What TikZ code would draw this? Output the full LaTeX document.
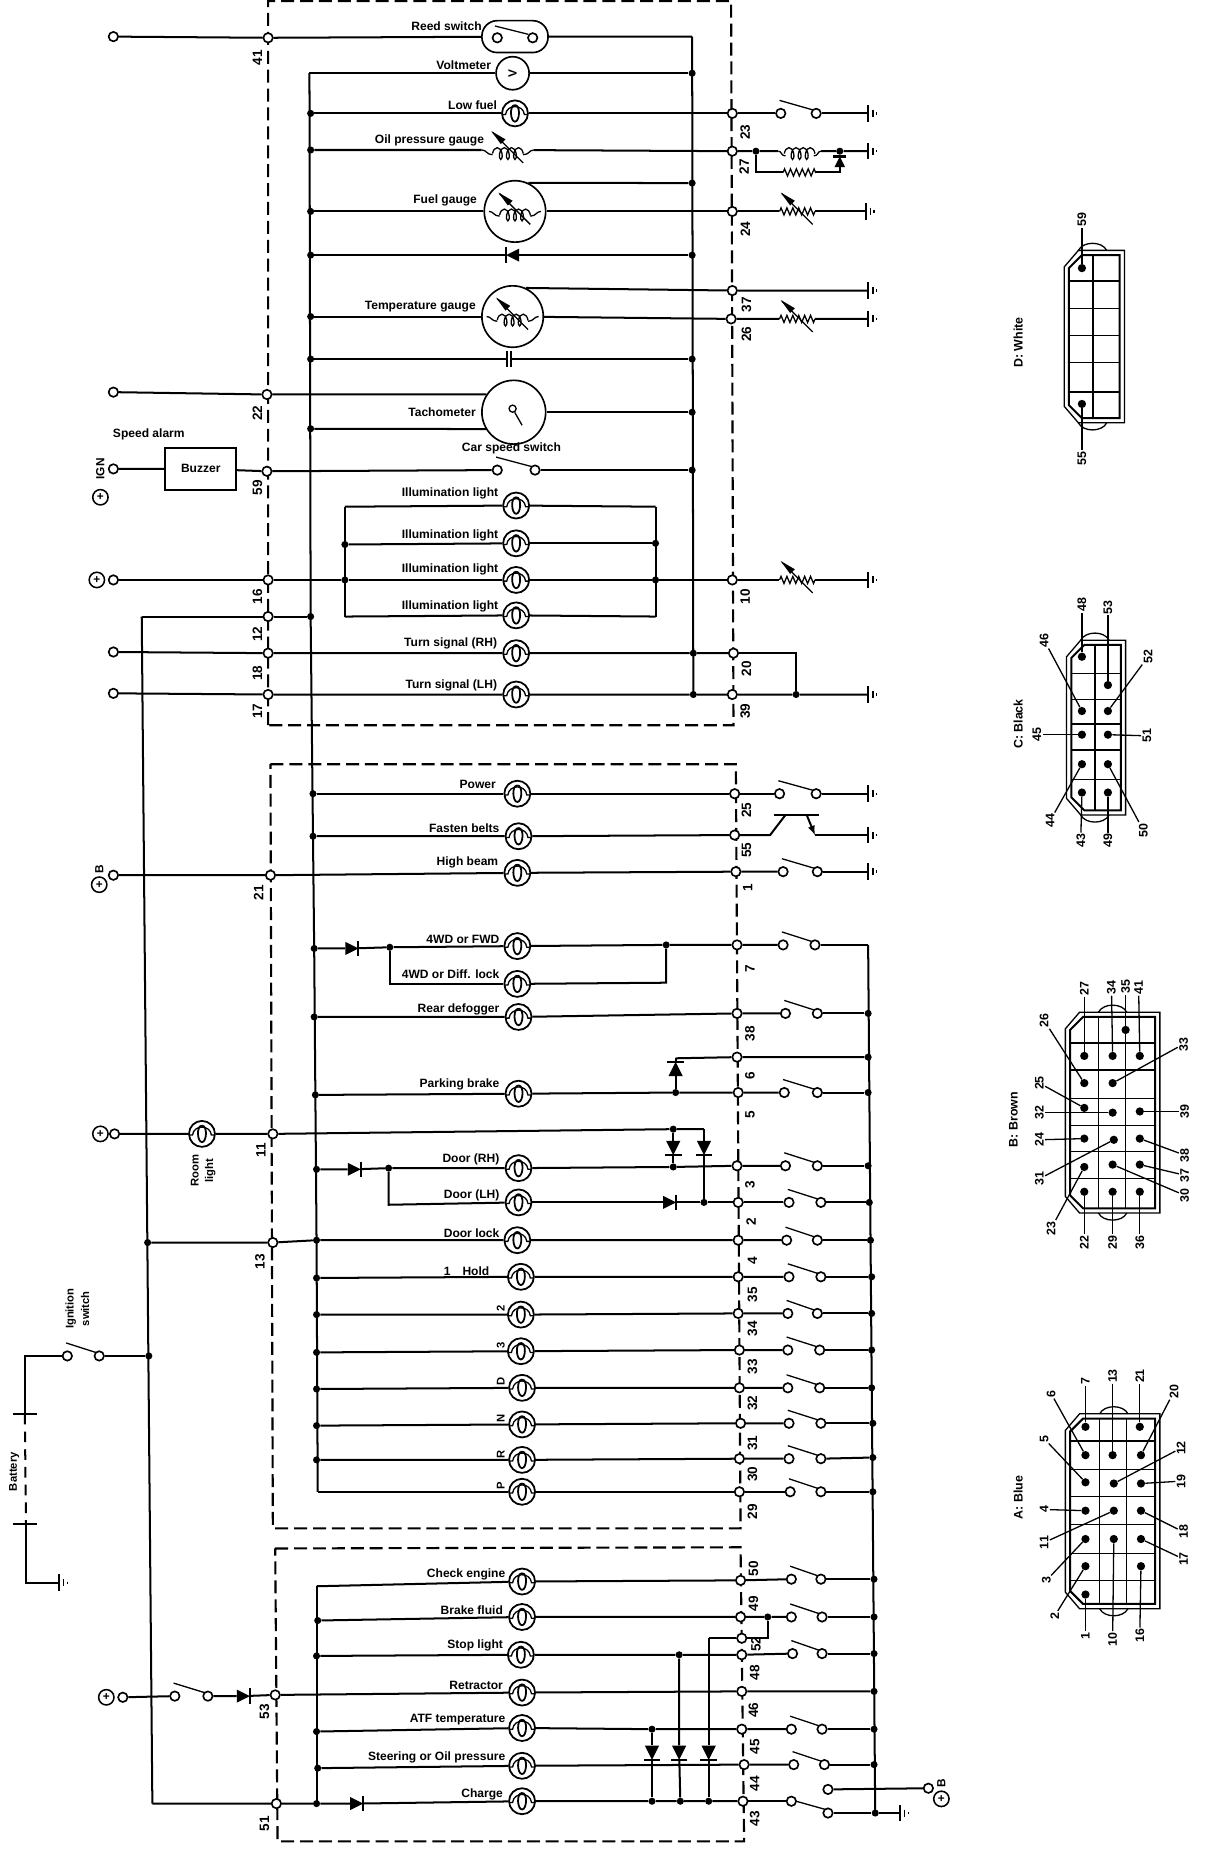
\documentclass[tikz,border=0pt]{standalone}
\usepackage{fontspec}
\setmainfont{Liberation Sans}
\usetikzlibrary{decorations.pathmorphing}
\newcounter{lbl}
\tikzset{
 x=1pt,y=-1pt,
 wire/.style={line width=1.7pt},
 thinw/.style={line width=1.1pt},
 box/.style={line width=1.8pt,dash pattern=on 11pt off 5pt},
 term/.style={circle,draw,line width=1.4pt,fill=white,minimum size=8pt,inner sep=0},
 contact/.style={circle,draw,line width=1.4pt,fill=white,minimum size=8pt,inner sep=0},
 dotj/.style={circle,fill=black,minimum size=6pt,inner sep=0},
 pdot/.style={circle,fill=black,minimum size=7pt,inner sep=0},
 bulb/.style={circle,draw,line width=1.5pt,fill=white,minimum size=22pt,inner sep=0,
   path picture={\begin{scope}[shift={(path picture bounding box.center)}]
     \draw[line width=1.1pt] (-11,1)--(-8,1) .. controls (-7,-8) and (7,-8) .. (8,1)--(11,1);
     \draw[line width=1.5pt] (0,-7) .. controls (-5,-7) and (-4,7) .. (0,7) .. controls (4,7) and (5,-7) .. (0,-7);
   \end{scope}}},
 lab/.style={font=\fontsize{10.2}{11}\selectfont\bfseries,inner sep=0,anchor=east},
 lab0/.style={font=\fontsize{10.2}{11}\selectfont\bfseries,inner sep=0},
 labr/.style={font=\fontsize{9.5}{10}\selectfont\bfseries,inner sep=0,rotate=90},
 num/.style={font=\fontsize{11.5}{12}\selectfont\bfseries,inner sep=0,rotate=90},
 pinl/.style={font=\fontsize{10.5}{11}\selectfont\bfseries,inner sep=1pt,rotate=90},
 plus/.style={circle,draw,line width=1.3pt,minimum size=13pt,inner sep=0,font=\fontsize{10}{10}\selectfont\bfseries},
 sym/.style={rectangle,minimum width=#1,minimum height=8pt,inner sep=0},
}
\newcommand\Tm[3]{\node[term] (#1) at (#2,#3) {};}
\newcommand\Jn[3]{\node[dotj] (#1) at (#2,#3) {};}
\newcommand\Bb[3]{\node[bulb] (#1) at (#2,#3) {};}
\newcommand\Lab[3]{\stepcounter{lbl}\node[lab] (lab\thelbl) at (#1,#2) {#3};}
\newcommand\Num[3]{\stepcounter{lbl}\node[num] (lab\thelbl) at (#1,#2) {#3};}
\newcommand\Sw[4]{\node[contact] (#1a) at (#2,#4) {};\node[contact] (#1b) at (#3,#4) {};
  \draw[thinw] ({#2-1},{#4-11})--({#3-3},{#4-3});}
\newcommand\Gd[3]{\coordinate (#1) at (#2,#3);\draw[wire] (#2,{#3-7})--(#2,{#3+7});
  \draw[thinw] ({#2+4},{#3-3})--({#2+4},{#3+3});\draw[thinw] ({#2+7},{#3-1})--({#2+7},{#3+1});}
% diode: name x y angle size
\newcommand\Dd[5]{\node[minimum size=#5 pt,inner sep=0] (#1) at (#2,#3) {};
  \begin{scope}[shift={(#2,#3)},rotate=#4]
  \fill ({-#5/2},{-#5/2})--({#5/2},0)--({-#5/2},{#5/2})--cycle;
  \draw[wire] ({#5/2},{-#5/2-1})--({#5/2},{#5/2+1});\end{scope}}
% variable arrow
\newcommand\Varr{\draw[line width=1.1pt] (-13,-15)--(13,11);\fill (-14,-16)--(-2,-9)--(-6,-5)--cycle;}
\newcommand\VR[3]{\node[sym=30pt] (#1) at (#2,#3) {};
  \begin{scope}[shift={(#2,#3)}]\draw[thinw,decorate,decoration={zigzag,amplitude=3pt,segment length=5pt}] (-15,0)--(15,0);\Varr\end{scope}}
\newcommand\CoilG[3]{\node[sym=44pt] (#1) at (#2,#3) {};
  \begin{scope}[shift={(#2,#3)}]
  \draw[thinw] (-22,0) .. controls (-18,0) and (-18,4) .. (-13,4);
  \draw[thinw,decorate,decoration={coil,aspect=.5,segment length=6pt,amplitude=5pt}] (-13,3)--(13,3);
  \draw[thinw] (13,4) .. controls (18,4) and (18,0) .. (22,0);\Varr\end{scope}}
\newcommand\Conn[5]{% x0 y0 x1 y1 cx
  \draw[thinw] ({#1+12},#2)--(#3,#2)--(#3,#4)--({#1+12},#4)--(#1,{#4-14})--(#1,{#2+14})--cycle;
  \draw[wire] ({#1+15},{#2+4})--({#3-4},{#2+4})--({#3-4},{#4-4})--({#1+15},{#4-4})--({#1+4},{#4-15})--({#1+4},{#2+15})--cycle;
  \draw[thinw] ({#5-12},#2) .. controls ({#5-8},{#2-8}) and ({#5+8},{#2-8}) .. ({#5+12},#2);
  \draw[thinw] ({#5-12},#4) .. controls ({#5-8},{#4+8}) and ({#5+8},{#4+8}) .. ({#5+12},#4);}
\newcommand\Pin[6]{\node[pdot] (#1) at (#2,#3) {};\node[pinl] (#1L) at (#4,#5) {#6};\draw[thinw] (#1)--(#1L);}
\begin{document}
\begin{tikzpicture}
\useasboundingbox (0,0) rectangle (1029.5,1568);
\fill[white] (0,0) rectangle (1029.5,1568);
% dashed boxes
\draw[box] (227,614) -- (227,1) -- (619,1) -- (621,614) -- cycle;
\draw[box] (229,647) -- (623,647) -- (627,1294) -- (231,1294) -- cycle;
\draw[box] (233,1311) -- (627,1310) -- (630,1559) -- (235,1559) -- cycle;
% left bus nodes
\coordinate (bl0) at (262,62);\coordinate (bl1) at (263,522);\coordinate (bl2) at (266,803);\coordinate (bl3) at (268,1050);\coordinate (bl4) at (269,1263);
\draw[wire] (bl0)--(bl1)--(bl2)--(bl3)--(bl4);
\coordinate (br0) at (586,31);\coordinate (br1) at (587,588);
\draw[wire] (br0)--(br1);
\coordinate (bv0) at (120,522);\coordinate (bv3) at (129,1527);
\draw[wire] (bv0)--(bv3);
\coordinate (bs0) at (735,800);\coordinate (bs1) at (741,1535);
\draw[wire] (bs0)--(bs1);
%% Box 1
% reed
\Tm{s41}{96}{31}\Tm{t41}{227}{32}
\node[rectangle,rounded corners=13pt,draw,line width=1.4pt,fill=white,minimum width=56pt,minimum height=27pt,inner sep=0] (reed) at (436,31) {};
\node[contact] (ra) at (421,32) {};\node[contact] (rb) at (451,32) {};\draw[thinw] (419,22)--(447,29);
\draw[wire] (s41)--(t41)--(reed)--(br0);
\Lab{408}{22}{Reed switch}\Num{218}{49}{41}
% voltmeter
\node[circle,draw,line width=1.4pt,fill=white,minimum size=28pt,inner sep=0,font=\fontsize{10}{10}\selectfont\bfseries] (vm) at (434,62) {\rotatebox{90}{V}};
\Jn{jv}{586}{62}
\draw[wire] (bl0)--(vm)--(jv);
\Lab{416}{55}{Voltmeter}
% low fuel
\Jn{j96}{263}{96}\Bb{blf}{436}{96}\Tm{t23}{620}{96}\Sw{s23}{661}{691}{96}\Gd{g23}{735}{96}
\draw[wire] (j96)--(blf)--(t23)--(s23a);\draw[wire] (s23b)--(g23);
\Lab{421}{89}{Low fuel}\Num{631}{112}{23}
% oil gauge
\Jn{j127}{263}{127}\CoilG{goil}{430}{127}\Tm{t27}{620}{128}\Jn{j27a}{640}{128}\node[sym=36pt] (c27) at (677,128) {};
\draw[thinw,decorate,decoration={coil,aspect=.5,segment length=6pt,amplitude=5pt}] (664,130)--(690,130);
\draw[thinw] (659,128)..controls (662,128) and (661,132)..(665,132);\draw[thinw] (689,132)..controls (693,132) and (692,128)..(695,128);
\Jn{j27b}{711}{128}\Gd{g27}{735}{128}
\node[sym=28pt] (r27) at (677,146) {};\draw[thinw,decorate,decoration={zigzag,amplitude=3pt,segment length=5pt}] (663,146)--(691,146);
\coordinate (c27c) at (711,146);\Dd{d27}{711}{137}{90}{9}
\draw[wire] (j127)--(goil)--(t27)--(j27a)--(c27)--(j27b)--(g27);
\draw[wire] (j27a)|-(r27);\draw[wire] (r27)--(c27c)--(d27)--(j27b);
\Lab{410}{119}{Oil pressure gauge}\Num{630}{141}{27}
% fuel gauge
\node[circle,draw,line width=1.4pt,fill=white,minimum size=52pt,inner sep=0] (gf) at (436,179) {};
\CoilG{gfc}{436}{179}
\Jn{j179}{263}{179}\Jn{j155}{586}{155}\Tm{t24}{620}{179}\VR{r24}{675}{179}\Gd{g24}{733}{179}
\draw[wire] (j179)--(gf);\draw[wire] (gf)--(t24)--(r24)--(g24);\draw[wire] (gf.65)--(j155);
\Lab{404}{170}{Fuel gauge}\Num{631}{194}{24}
% diode
\Jn{j216}{263}{216}\Jn{k216}{586}{216}\Dd{d216}{434}{216}{180}{11}
\draw[wire] (j216)--(d216)--(k216);
% temp gauge
\node[circle,draw,line width=1.4pt,fill=white,minimum size=52pt,inner sep=0] (gt) at (434,268) {};
\CoilG{gtc}{434}{268}
\Jn{j268}{263}{268}\Tm{t37}{620}{246}\Gd{g37}{735}{246}\Tm{t26}{619}{270}\VR{r26}{675}{270}\Gd{g26}{735}{270}
\draw[wire] (j268)--(gt);\draw[wire] (gt.65)--(t37)--(g37);\draw[wire] (gt)--(t26)--(r26)--(g26);
\Lab{403}{260}{Temperature gauge}\Num{632}{258}{37}\Num{632}{283}{26}
% capacitor
\Jn{j304}{263}{304}\Jn{k304}{586}{304}\node[minimum width=5pt,minimum height=12pt,inner sep=0] (cap) at (431,304) {};
\draw[wire] (429,297)--(429,311);\draw[wire] (433,297)--(433,311);
\draw[wire] (j304)--(cap)--(k304);
% tacho
\node[circle,draw,line width=1.4pt,fill=white,minimum size=54pt,inner sep=0] (tach) at (435,349) {};
\node[circle,draw,line width=1.1pt,minimum size=6pt,inner sep=0] (tneedle) at (434,346) {};\coordinate (tnt) at (442,360);\draw[thinw] (tneedle)--(tnt);
\Tm{s22}{96}{332}\Tm{t22}{226}{334}\Jn{j363}{263}{363}\Jn{j349}{586}{349}
\draw[wire] (s22)--(t22)--(tach.147);\draw[wire] (j363)--(tach.211);\draw[wire] (tach)--(j349);
\Lab{403}{349}{Tachometer}\Num{218}{350}{22}
% buzzer
\node[lab0] (salarm) at (126,368) {Speed alarm};
\node[plus] (pign) at (85,421) {+};\node[labr,font=\fontsize{10}{10}\selectfont\bfseries] (ign) at (85,397) {IGN};\Tm{s59}{96}{397}
\node[draw,line width=1.6pt,minimum width=60pt,minimum height=35pt,inner sep=0,lab0] (buz) at (170,397) {Buzzer};
\Tm{t59}{226}{399}\Sw{csw}{421}{453}{398}\Jn{j398}{586}{398}
\draw[wire] (s59)--(buz)--(t59)--(cswa);\draw[wire] (cswb)--(j398);
\node[lab0] (cssl) at (433,380) {Car speed switch};\Num{218}{413}{59}
% illumination
\Bb{il1}{437}{428}\Bb{il2}{437}{460}\Bb{il3}{437}{491}\Bb{il4}{437}{521}
\Jn{il2l}{292}{461}\Jn{il3l}{292}{491}\Jn{il2r}{555}{460}\Jn{il3r}{555}{491}
\coordinate (il1l) at (292,429);\coordinate (il1r) at (555,429);\coordinate (il4l) at (292,522);\coordinate (il4r) at (555,522);
\draw[wire] (il1l)--(il1);\draw[wire] (il1)--(il1r);\draw[wire] (il2l)--(il2);\draw[wire] (il2)--(il2r);
\draw[wire] (il4l)--(il4);\draw[wire] (il4)--(il4r);
\draw[wire] (il1l)--(il4l);\draw[wire] (il1r)--(il4r);
\node[plus] (p16) at (82,491) {+};\Tm{s16}{96}{491}\Tm{t16}{227}{491}\Tm{t10}{620}{491}\VR{vr10}{675}{491}\Gd{g10}{735}{491}
\draw[wire] (s16)--(t16)--(il3l)--(il3);\draw[wire] (il3)--(il3r)--(t10)--(vr10)--(g10);
\Lab{422}{418}{Illumination light}\Lab{422}{453}{Illumination light}\Lab{422}{482}{Illumination light}\Lab{422}{513}{Illumination light}
\Num{218}{505}{16}\Num{631}{505}{10}
% 12
\Tm{t12}{227}{522}\Jn{j522}{263}{522}\draw[wire] (bv0)--(t12)--(j522);\Num{218}{537}{12}
% turn signals
\Tm{s18}{96}{552}\Tm{t18}{227}{553}\Bb{ts1}{437}{553}\Jn{j553}{587}{553}\Tm{t20}{621}{553}\Jn{j588b}{674}{588}
\draw[wire] (s18)--(t18)--(ts1)--(j553)--(t20);\draw[wire] (t20)-|(j588b);
\Tm{s17}{96}{587}\Tm{t17}{227}{588}\Bb{ts2}{437}{588}\Jn{j588}{587}{588}\Tm{t39}{620}{588}\Gd{g39}{735}{588}
\draw[wire] (s17)--(t17)--(ts2)--(j588)--(t39)--(j588b)--(g39);
\Lab{421}{545}{Turn signal (RH)}\Lab{421}{580}{Turn signal (LH)}
\Num{218}{570}{18}\Num{218}{602}{17}\Num{632}{566}{20}\Num{631}{602}{39}
%% Box 2
\Jn{j672}{265}{672}\Bb{bp}{438}{672}\Tm{t25}{622}{672}\Sw{s25}{660}{691}{672}\Gd{g25}{735}{672}
\draw[wire] (j672)--(bp)--(t25)--(s25a);\draw[wire] (s25b)--(g25);
\Lab{420}{664}{Power}\Num{632}{686}{25}
\Jn{j708}{265}{708}\Bb{bf}{439}{708}\Tm{t55}{622}{707}
\coordinate (q1) at (652,707);\coordinate (q2) at (665,690);\coordinate (q3) at (683,690);\coordinate (q4) at (690,707);\coordinate (qa) at (655,690);\coordinate (qb) at (693,690);\Gd{g55}{735}{707}
\draw[wire] (j708)--(bf)--(t55)--(q1)--(q2);\draw[wire] (qa)--(qb);\draw[wire,-latex] (q3)--(q4);\draw[wire] (q4)--(g55);
\Lab{423}{701}{Fasten belts}\Num{632}{720}{55}
\node[labr,font=\fontsize{10}{10}\selectfont\bfseries] (bB1) at (84,736) {B};\node[plus] (pB1) at (84,749) {+};
\Tm{s21}{96}{741}\Tm{t21}{229}{741}\Bb{bh}{438}{739}\Tm{t1}{623}{738}\Sw{s1}{663}{692}{738}\Gd{g1}{735}{738}
\draw[wire] (s21)--(t21)--(bh)--(t1)--(s1a);\draw[wire] (s1b)--(g1);
\Lab{422}{730}{High beam}\Num{219}{756}{21}\Num{633}{752}{1}
% 4WD
\Jn{j803}{266}{803}\Dd{d803}{298}{803}{0}{11}\Jn{j330}{330}{802}\Bb{b4a}{438}{801}\Jn{j564}{564}{800}\Tm{t7}{624}{800}\Sw{s7}{663}{690}{800}
\draw[wire] (j803)--(d803)--(j330)--(b4a)--(j564)--(t7)--(s7a);\draw[wire] (s7b)--(bs0);
\Bb{b4b}{438}{833}\coordinate (c4a) at (330,833);\coordinate (c4b) at (564,832);
\draw[wire] (j330)--(c4a)--(b4b);\draw[wire] (b4b)--(c4b)--(j564);
\Lab{423}{795}{4WD or FWD}\Lab{423}{825}{4WD or Diff. lock}\Num{635}{820}{7}
% rear
\Jn{j861}{266}{861}\Bb{br}{439}{861}\Tm{t38}{624}{858}\Sw{s38}{665}{692}{858}\Jn{k38}{735}{858}
\draw[wire] (j861)--(br)--(t38)--(s38a);\draw[wire] (s38b)--(k38);
\Lab{423}{855}{Rear defogger}\Num{635}{875}{38}
% parking
\Tm{t6}{624}{895}\Jn{k6}{735}{895}\coordinate (c6) at (572,896);\Dd{d6}{572}{905}{90}{12}\Jn{j925}{572}{925}
\draw[wire] (c6)--(t6)--(k6);\draw[wire] (c6)--(d6)--(j925);
\Jn{j927}{267}{927}\Bb{bpk}{439}{926}\Tm{t5}{625}{925}\Sw{s5}{664}{692}{925}\Jn{k5}{735}{925}
\draw[wire] (j927)--(bpk)--(j925)--(t5)--(s5a);\draw[wire] (s5b)--(k5);
\Lab{423}{918}{Parking brake}\Num{635}{911}{6}\Num{635}{944}{5}
% room
\node[plus] (p11) at (85,960) {+};\Tm{s11}{97}{960}\Bb{brm}{171}{960}\Tm{t11}{231}{960}
\Jn{j956}{570}{956}\coordinate (c956) at (596,956);
\draw[wire] (s11)--(brm)--(t11)--(j956)--(c956);
\node[labr] (rl1) at (165,991) {Room};\node[labr] (rl2) at (178,991) {light};\Num{221}{974}{11}
\Dd{d3}{570}{972}{-90}{12}\Dd{d2}{596}{972}{-90}{12}
\Jn{j988}{570}{988}\Jn{j1018}{596}{1018}
\draw[wire] (j956)--(d3)--(j988);\draw[wire] (c956)--(d2)--(j1018);
\Jn{j990}{268}{990}\Dd{d990}{300}{990}{0}{11}\Jn{j329}{329}{989}\Bb{bdr}{439}{989}\Tm{t3}{624}{987}\Sw{s3}{665}{692}{987}\Jn{k3}{735}{987}
\draw[wire] (j990)--(d990)--(j329)--(bdr)--(j988)--(t3)--(s3a);\draw[wire] (s3b)--(k3);
\Bb{bdl}{439}{1018}\coordinate (c329) at (329,1020);\Dd{d1018}{567}{1018}{0}{11}\Tm{t2}{625}{1018}\Sw{s2}{668}{695}{1018}\Jn{k2}{736}{1018}
\draw[wire] (j329)--(c329)--(bdl);\draw[wire] (bdl)--(d1018)--(j1018)--(t2)--(s2a);\draw[wire] (s2b)--(k2);
\Lab{423}{982}{Door (RH)}\Lab{423}{1012}{Door (LH)}\Num{635}{1003}{3}\Num{636}{1034}{2}
% door lock
\Jn{j120}{125}{1052}\Tm{t13}{231}{1052}\Jn{j1050}{268}{1050}\Bb{bdlk}{438}{1050}\Tm{t4}{625}{1050}\Sw{s4}{666}{692}{1050}\Jn{k4}{737}{1050}
\draw[wire] (j120)--(t13)--(j1050)--(bdlk)--(t4)--(s4a);\draw[wire] (s4b)--(k4);
\Lab{423}{1044}{Door lock}\Num{220}{1068}{13}\Num{637}{1067}{4}
% gears
\Jn{j1082}{268}{1082}\Bb{bh1}{441}{1081}\Tm{t35}{625}{1081}\Sw{s35}{668}{695}{1081}\Jn{k35}{738}{1081}
\draw[wire] (j1082)--(bh1)--(t35)--(s35a);\draw[wire] (s35b)--(k35);
\node[lab0] (hold) at (395,1076) {1\hspace{1em}Hold};\Num{637}{1096}{35}
\Jn{j1113}{268}{1113}\Bb{bh2}{441}{1113}\Tm{t34}{625}{1112}\Sw{s34}{667}{692}{1112}\Jn{k34}{738}{1112}
\draw[wire] (j1113)--(bh2)--(t34)--(s34a);\draw[wire] (s34b)--(k34);
\node[labr] (g2) at (424,1108) {2};\Num{637}{1125}{34}
\Jn{j1144}{268}{1145}\Bb{bh3}{441}{1144}\Tm{t33}{626}{1143}\Sw{s33}{667}{694}{1143}\Jn{k33}{738}{1143}
\draw[wire] (j1144)--(bh3)--(t33)--(s33a);\draw[wire] (s33b)--(k33);
\node[labr] (g3) at (424,1139) {3};\Num{637}{1157}{33}
\Jn{j1176}{268}{1176}\Bb{bhd}{442}{1175}\Tm{t32}{626}{1175}\Sw{s32}{667}{694}{1175}\Jn{k32}{738}{1175}
\draw[wire] (j1176)--(bhd)--(t32)--(s32a);\draw[wire] (s32b)--(k32);
\node[labr] (gd) at (424,1170) {D};\Num{637}{1188}{32}
\Jn{j1207}{268}{1207}\Bb{bhn}{442}{1206}\Tm{t31}{627}{1205}\Sw{s31}{668}{695}{1205}\Jn{k31}{739}{1205}
\draw[wire] (j1207)--(bhn)--(t31)--(s31a);\draw[wire] (s31b)--(k31);
\node[labr] (gn) at (424,1201) {N};\Num{637}{1222}{31}
\Jn{j1236}{268}{1236}\Bb{bhr}{442}{1236}\Tm{t30}{626}{1235}\Sw{s30}{668}{695}{1235}\Jn{k30}{739}{1234}
\draw[wire] (j1236)--(bhr)--(t30)--(s30a);\draw[wire] (s30b)--(k30);
\node[labr] (gr) at (424,1231) {R};\Num{637}{1248}{30}
\Bb{bhp}{442}{1263}\Tm{t29}{626}{1263}\Sw{s29}{669}{695}{1263}\Jn{k29}{739}{1263}
\draw[wire] (bl4)--(bhp)--(t29)--(s29a);\draw[wire] (s29b)--(k29);
\node[labr] (gp) at (424,1258) {P};\Num{637}{1280}{29}
%% Box 3
\coordinate (c0) at (268,1343);\coordinate (c9) at (268,1527);\draw[wire] (c0)--(c9);
\Bb{c1}{442}{1339}\Tm{t50}{627}{1338}\Sw{s50}{670}{695}{1337}\Jn{k50}{740}{1337}
\draw[wire] (c0)--(c1)--(t50)--(s50a);\draw[wire] (s50b)--(k50);
\Lab{428}{1333}{Check engine}\Num{638}{1328}{50}
\Jn{j1372}{269}{1372}\Bb{c2}{442}{1369}\Tm{t49}{627}{1369}\Jn{j650}{650}{1369}\Sw{s49}{670}{696}{1369}\Jn{k49}{740}{1369}
\draw[wire] (j1372)--(c2)--(t49)--(j650)--(s49a);\draw[wire] (s49b)--(k49);
\Lab{426}{1363}{Brake fluid}\Num{638}{1358}{49}
\Tm{t52}{628}{1387}\coordinate (c600) at (600,1387);\coordinate (c650) at (650,1387);
\draw[wire] (c600)--(t52)--(c650)--(j650);\Num{640}{1392}{52}
\Jn{j1402}{268}{1402}\Bb{c3}{441}{1401}\Jn{j575}{575}{1401}\Tm{t48}{628}{1401}\Sw{s48}{671}{696}{1400}\Jn{k48}{740}{1400}
\draw[wire] (j1402)--(c3)--(j575)--(t48)--(s48a);\draw[wire] (s48b)--(k48);
\Lab{426}{1393}{Stop light}\Num{639}{1416}{48}
\Bb{c4}{442}{1433}\Tm{t53}{233}{1435}\Tm{t46}{628}{1432}\Jn{k46}{740}{1432}
\draw[wire] (t53)--(c4)--(t46)--(k46);\Lab{426}{1427}{Retractor}\Num{224}{1449}{53}\Num{638}{1448}{46}
\Jn{j1466}{268}{1466}\Bb{c5}{442}{1463}\Jn{j552}{552}{1464}\Tm{t45}{628}{1464}\Sw{s45}{670}{696}{1464}\Jn{k45}{740}{1464}
\draw[wire] (j1466)--(c5)--(j552)--(t45)--(s45a);\draw[wire] (s45b)--(k45);
\Lab{428}{1456}{ATF temperature}\Num{639}{1479}{45}
\Jn{j1497}{269}{1497}\Bb{c6b}{442}{1495}\Tm{t44}{630}{1494}\Sw{s44}{672}{698}{1494}\Jn{k44}{740}{1494}
\draw[wire] (j1497)--(c6b)--(t44)--(s44a);\draw[wire] (s44b)--(k44);
\Lab{428}{1488}{Steering or Oil pressure}\Num{639}{1510}{44}
\Tm{s51}{234}{1527}\Jn{j1527}{268}{1527}\Dd{dch}{302}{1527}{0}{11}\Bb{c7}{442}{1525}
\Jn{ja}{552}{1525}\Jn{jb}{576}{1525}\Jn{jc}{600}{1525}\Tm{t43}{629}{1525}
\draw[wire] (bv3)--(s51)--(j1527)--(dch)--(c7)--(ja)--(jb)--(jc)--(t43);
\Lab{426}{1519}{Charge}\Num{224}{1544}{51}\Num{639}{1540}{43}
\Dd{dda}{552}{1484}{-90}{12}\Dd{ddb}{575}{1484}{-90}{12}\Dd{ddc}{600}{1484}{-90}{12}
\draw[wire] (j552)--(dda)--(ja);\draw[wire] (j575)--(ddb)--(jb);\draw[wire] (c600)--(ddc)--(jc);
% ignition switch at bottom right
\node[contact] (i1) at (670,1525) {};\node[contact] (i2) at (701,1535) {};\node[contact] (i3) at (701,1515) {};\draw[thinw] (674,1525)--(699,1532);
\draw[wire] (t43)--(i1);\Tm{tB}{786}{1514}\draw[wire] (i3)--(tB);
\Jn{j741}{741}{1535}\Gd{gB}{762}{1535}\draw[wire] (i2)--(j741)--(gB);
\node[labr,font=\fontsize{10}{10}\selectfont\bfseries] (bB2) at (797,1510) {B};\node[plus] (pB2) at (797,1523) {+};
%% Left: ignition
\Sw{ig}{57}{84}{1148}\Jn{jig}{126}{1148}\draw[wire] (igb)--(jig);
\node[labr] (ig1) at (60,1108) {Ignition};\node[labr] (ig2) at (72,1108) {switch};
\coordinate (bt1) at (21,1148);\coordinate (bt2) at (21,1197);\coordinate (bt3) at (22,1290);\coordinate (bt4) at (22,1340);\Gd{gbt}{50}{1340}
\draw[wire] (iga)--(bt1)--(bt2);\draw[wire,dash pattern=on 9pt off 6pt] (bt2)--(bt3);\draw[wire] (bt3)--(bt4)--(gbt);
\draw[wire] (11,1197)--(31,1197);\draw[wire] (11,1290)--(31,1290);
\node[labr] (batl) at (12,1246) {Battery};
\node[plus] (pl53) at (90,1437) {+};\Tm{s53}{104}{1437}\Sw{s53s}{148}{176}{1436}\Dd{d53}{206}{1436}{0}{11}
\draw[wire] (s53)--(s53sa);\draw[wire] (s53sb)--(d53)--(t53);
%% Connector D
\node[labr,font=\fontsize{10.5}{11}\selectfont\bfseries] (cd) at (862,290) {D: White};
\Conn{901}{212}{952}{358}{925}
\draw[wire] (925,216)--(925,354);\foreach \yy in {238,261,284,307,332}{\draw[thinw] (905,\yy)--(948,\yy);}
\Pin{p59}{916}{227}{916}{186}{59}\Pin{p55}{916}{342}{916}{388}{55}
%% Connector C
\node[labr,font=\fontsize{10.5}{11}\selectfont\bfseries] (cc) at (862,613) {C: Black};
\Conn{903}{542}{953}{690}{927}
\draw[thinw] (927,546)--(927,686);\foreach \yy in {570,592,613,635,660}{\draw[thinw] (907,\yy)--(949,\yy);}
\Pin{p48}{916}{556}{916}{512}{48}\Pin{p53}{938}{580}{938}{514}{53}\Pin{p46}{916}{602}{884}{542}{46}\Pin{p52}{938}{602}{972}{556}{52}
\Pin{p45}{916}{622}{878}{622}{45}\Pin{p51}{938}{622}{971}{623}{51}\Pin{p44}{916}{647}{889}{695}{44}\Pin{p50}{938}{647}{968}{703}{50}
\Pin{p43}{916}{671}{915}{712}{43}\Pin{p49}{938}{671}{938}{712}{49}
%% Connector B
\node[labr,font=\fontsize{10.5}{11}\selectfont\bfseries] (cb) at (858,948) {B: Brown};
\Conn{902}{857}{982}{1027}{942}
\draw[thinw] (930,861)--(930,1023);\draw[thinw] (953,861)--(953,1023);
\foreach \yy in {883,906,930,953,975,998}{\draw[thinw] (906,\yy)--(978,\yy);}
\Pin{q27}{918}{894}{918}{837}{27}\Pin{q34}{942}{894}{941}{836}{34}\Pin{q35}{953}{872}{953}{835}{35}\Pin{q41}{965}{894}{964}{836}{41}
\Pin{q26}{918}{917}{884}{864}{26}\Pin{q33}{942}{917}{1002}{884}{33}\Pin{q25}{918}{938}{880}{917}{25}\Pin{q32}{942}{942}{880}{942}{32}
\Pin{q39}{965}{941}{1003}{941}{39}\Pin{q24}{918}{964}{880}{965}{24}\Pin{q31}{943}{965}{880}{998}{31}\Pin{q38}{965}{964}{1003}{978}{38}
\Pin{q37}{965}{986}{1003}{995}{37}\Pin{q30}{942}{986}{1003}{1012}{30}\Pin{q23}{918}{988}{890}{1040}{23}
\Pin{q22}{918}{1009}{918}{1052}{22}\Pin{q29}{942}{1009}{942}{1052}{29}\Pin{q36}{965}{1009}{965}{1052}{36}
%% Connector A
\node[labr,font=\fontsize{10.5}{11}\selectfont\bfseries] (ca) at (862,1268) {A: Blue};
\Conn{902}{1197}{982}{1362}{943}
\draw[thinw] (931,1201)--(931,1358);\draw[thinw] (954,1201)--(954,1358);
\foreach \yy in {1220,1244,1267,1291,1315,1338}{\draw[thinw] (906,\yy)--(978,\yy);}
\Pin{r7}{919}{1208}{919}{1169}{7}\Pin{r6}{919}{1232}{890}{1180}{6}\Pin{r21}{965}{1208}{965}{1165}{21}\Pin{r20}{966}{1232}{994}{1178}{20}
\Pin{r13}{942}{1232}{942}{1165}{13}\Pin{r5}{919}{1255}{884}{1218}{5}\Pin{r12}{943}{1256}{1000}{1226}{12}\Pin{r19}{966}{1256}{1000}{1254}{19}
\Pin{r4}{919}{1279}{884}{1278}{4}\Pin{r11}{943}{1279}{884}{1306}{11}\Pin{r18}{966}{1279}{1002}{1297}{18}\Pin{r3}{919}{1303}{886}{1338}{3}
\Pin{r10}{943}{1303}{942}{1388}{10}\Pin{r17}{966}{1303}{1002}{1320}{17}\Pin{r2}{919}{1326}{893}{1368}{2}\Pin{r16}{966}{1326}{965}{1385}{16}
\Pin{r1}{919}{1350}{919}{1385}{1}
\end{tikzpicture}
\end{document}
